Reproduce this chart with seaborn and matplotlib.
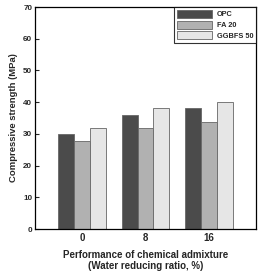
import pandas as pd
import matplotlib
matplotlib.use("Agg")
import matplotlib.pyplot as plt
import seaborn as sns

# Compressive strength vs. water reducing ratio of the admixture
ratios = ["0", "8", "16"]
mixes = ["OPC", "FA 20", "GGBFS 50"]
opc = [30.0, 36.0, 38.0]
fa20 = [27.7, 32.0, 33.8]
ggbfs50 = [32.0, 38.2, 40.0]

df = pd.DataFrame({
    "ratio": ratios * 3,
    "mix": [m for m in mixes for _ in ratios],
    "strength": opc + fa20 + ggbfs50,
})

sns.set_style("ticks")
plt.rcParams["font.family"] = ["Liberation Sans", "DejaVu Sans"]
plt.rcParams["font.weight"] = "bold"

fig = plt.figure(figsize=(2.58, 2.72), dpi=100)
ax = fig.add_axes([35 / 258, 1 - 229 / 272, 221 / 258, 222 / 272])

palette = ["#4b4b4b", "#b1b1b1", "#e6e6e6"]
sns.barplot(data=df, x="ratio", y="strength", hue="mix", order=ratios,
            hue_order=mixes, palette=palette, width=0.75, edgecolor="#666666",
            linewidth=0.6, saturation=1, ax=ax)

ax.set_ylim(0, 70)
ax.set_xlim(-0.74, 2.74)
ax.set_yticks(range(0, 71, 10))
ax.tick_params(axis="y", direction="in", length=3, width=0.8, labelsize=5.8, pad=2)
ax.tick_params(axis="x", length=0, labelsize=7, pad=3)
for lbl in ax.get_xticklabels() + ax.get_yticklabels():
    lbl.set_fontweight("bold")
for sp in ax.spines.values():
    sp.set_visible(True)
    sp.set_linewidth(0.9)
    sp.set_color("black")

ax.set_ylabel("Compressive strength (MPa)", fontsize=6.8, fontweight="bold", labelpad=4)
ax.set_xlabel("Performance of chemical admixture\n(Water reducing ratio, %)",
              fontsize=7, fontweight="bold", labelpad=5, linespacing=1.1)

leg = ax.legend(loc="upper right", fontsize=5.3, frameon=True, fancybox=False,
                edgecolor="black", borderaxespad=0, handlelength=4.8,
                handleheight=1.3, borderpad=0.4, labelspacing=0.3,
                handletextpad=0.6)
leg.get_frame().set_linewidth(0.8)
for t in leg.get_texts():
    t.set_fontweight("bold")

fig.savefig("out.png", dpi=100)
